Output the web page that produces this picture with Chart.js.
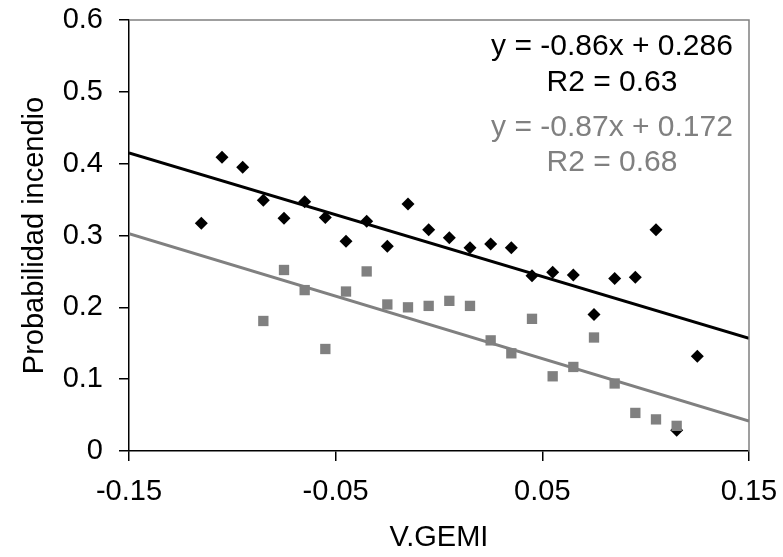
<!DOCTYPE html>
<html>
<head>
<title>Probabilidad incendio vs V.GEMI</title>
<script src="https://cdn.jsdelivr.net/npm/chart.js@4.4.1/dist/chart.umd.min.js"></script>
<style>
body { margin: 0; background: #ffffff; }
#wrap { width: 783px; height: 557px; }
</style>
</head>
<body>
<div id="wrap"><canvas id="myChart" width="783" height="557"></canvas></div>
<script>
// serie negra (rombos)
var blackX = [-0.115, -0.105, -0.095, -0.085, -0.075, -0.065, -0.055, -0.045, -0.035, -0.025, -0.015, -0.005,
              0.005, 0.015, 0.025, 0.035, 0.045, 0.055, 0.065, 0.075, 0.085, 0.095, 0.105, 0.115, 0.125];
var blackY = [0.317, 0.409, 0.395, 0.349, 0.324, 0.347, 0.325, 0.292, 0.320, 0.285, 0.344, 0.308,
              0.297, 0.283, 0.288, 0.283, 0.244, 0.249, 0.245, 0.190, 0.240, 0.242, 0.308, 0.029, 0.132];
// serie gris (cuadrados)
var grayX = [-0.085, -0.075, -0.065, -0.055, -0.045, -0.035, -0.025, -0.015, -0.005,
             0.005, 0.015, 0.025, 0.035, 0.045, 0.055, 0.065, 0.075, 0.085, 0.095, 0.105, 0.115];
var grayY = [0.181, 0.252, 0.224, 0.142, 0.222, 0.250, 0.204, 0.200, 0.202,
             0.209, 0.202, 0.154, 0.136, 0.184, 0.104, 0.117, 0.158, 0.094, 0.053, 0.044, 0.035];
// lineas de tendencia
var trendSlope = [-0.86, -0.87];
var trendIntercept = [0.286, 0.172];
var trendLabels = [['y = -0.86x + 0.286', 'R2 = 0.63'], ['y = -0.87x + 0.172', 'R2 = 0.68']];
var xTicks = [-0.15, -0.05, 0.05, 0.15];
var yTicks = [0, 0.1, 0.2, 0.3, 0.4, 0.5, 0.6];

var FONT = 'Liberation Sans, Arial, sans-serif';
var GRAY = '#808080';

function pts(xs, ys) {
  var out = [];
  for (var i = 0; i < xs.length; i++) out.push({x: xs[i], y: ys[i]});
  return out;
}
function trend(k) {
  var x0 = xTicks[0], x1 = xTicks[xTicks.length - 1];
  return [{x: x0, y: trendSlope[k] * x0 + trendIntercept[k]},
          {x: x1, y: trendSlope[k] * x1 + trendIntercept[k]}];
}

var extras = {
  id: 'extras',
  afterDraw: function(chart) {
    var c = chart.ctx, a = chart.chartArea;
    c.save();
    // marco gris arriba y a la derecha
    c.strokeStyle = GRAY;
    c.lineWidth = 1.5;
    c.beginPath();
    c.moveTo(a.left, a.top);
    c.lineTo(a.right, a.top);
    c.lineTo(a.right, a.bottom);
    c.stroke();
    // ecuaciones
    c.font = '30px ' + FONT;
    c.textAlign = 'center';
    c.textBaseline = 'middle';
    var cx = 612;
    var rows = [47, 83, 128, 163];
    c.fillStyle = '#000000';
    c.fillText(trendLabels[0][0], cx, rows[0]);
    c.fillText(trendLabels[0][1], cx, rows[1]);
    c.fillStyle = GRAY;
    c.fillText(trendLabels[1][0], cx, rows[2]);
    c.fillText(trendLabels[1][1], cx, rows[3]);
    c.restore();
  }
};

var ctx = document.getElementById('myChart').getContext('2d');
var chart = new Chart(ctx, {
  type: 'scatter',
  data: {
    datasets: [
      { label: 'tend1', data: trend(0), showLine: true, borderColor: '#000000', borderWidth: 3,
        pointRadius: 0, order: 0 },
      { label: 'tend2', data: trend(1), showLine: true, borderColor: GRAY, borderWidth: 3,
        pointRadius: 0, order: 1 },
      { label: 'gris', data: pts(grayX, grayY), pointStyle: 'rect', pointRadius: 7.3,
        backgroundColor: GRAY, borderColor: GRAY, borderWidth: 0, order: 2 },
      { label: 'negro', data: pts(blackX, blackY), pointStyle: 'rectRot', pointRadius: 6.5,
        backgroundColor: '#000000', borderColor: '#000000', borderWidth: 0, order: 3 }
    ]
  },
  options: {
    responsive: false,
    animation: false,
    events: [],
    layout: { padding: { left: 0, right: 34, top: 20, bottom: 0 } },
    plugins: { legend: { display: false }, tooltip: { enabled: false } },
    scales: {
      x: {
        type: 'linear', min: -0.15, max: 0.15,
        afterBuildTicks: function(s) { s.ticks = xTicks.map(function(v) { return {value: v}; }); },
        afterFit: function(s) { s.height = 106; s.paddingLeft = 0; s.paddingRight = 0; },
        grid: { drawOnChartArea: false, drawTicks: true, tickLength: 10, color: '#000000', lineWidth: 1.5 },
        border: { color: '#000000', width: 1.5 },
        ticks: { color: '#000000', font: { family: FONT, size: 29 }, padding: 14,
                 maxRotation: 0, callback: function(v) { return v.toFixed(2); } },
        title: { display: true, text: 'V.GEMI', color: '#000000', font: { family: FONT, size: 29 },
                 padding: { top: 12, bottom: 2 } }
      },
      y: {
        type: 'linear', min: 0, max: 0.6,
        afterBuildTicks: function(s) { s.ticks = yTicks.map(function(v) { return {value: v}; }); },
        afterFit: function(s) { s.width = 129; s.paddingTop = 0; s.paddingBottom = 0; },
        grid: { drawOnChartArea: false, drawTicks: true, tickLength: 10, color: '#000000', lineWidth: 1.5 },
        border: { color: '#000000', width: 1.5 },
        ticks: { color: '#000000', font: { family: FONT, size: 29 }, padding: 16,
                 callback: function(v) { return v === 0 ? '0' : v.toFixed(1); } },
        title: { display: true, text: 'Probabilidad incendio', color: '#000000',
                 font: { family: FONT, size: 29 }, padding: { top: 18, bottom: 0 } }
      }
    }
  },
  plugins: [extras]
});
</script>
</body>
</html>
